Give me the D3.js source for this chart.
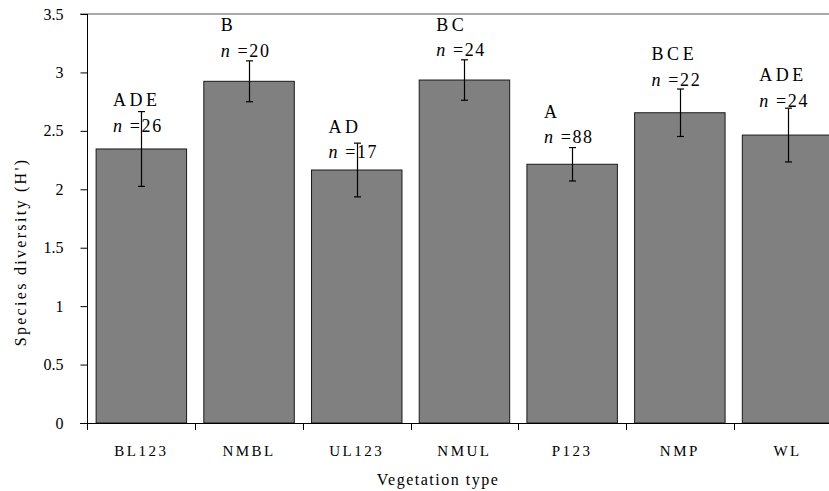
<!DOCTYPE html>
<html>
<head>
<meta charset="utf-8">
<script src="https://cdn.jsdelivr.net/npm/d3@7"></script>
<style>
  body { margin: 0; background: #fff; }
</style>
</head>
<body>
<div id="chart-wrapper"></div>
<script>
// data
const categories = ["BL123", "NMBL", "UL123", "NMUL", "P123", "NMP", "WL"];
const diversity = [2.345, 2.924, 2.165, 2.935, 2.214, 2.655, 2.464];
const errors = [0.32, 0.175, 0.23, 0.173, 0.143, 0.203, 0.23];
const groups = ["ADE", "B", "AD", "BC", "A", "BCE", "ADE"];
const sampleSizes = [26, 20, 17, 24, 88, 22, 24];
// height (in H' units) where the "n =" line of each label sits
const labelAt = [2.493, 3.134, 2.265, 3.140, 2.396, 2.884, 2.707];
const yTicks = [0, 0.5, 1, 1.5, 2, 2.5, 3, 3.5];

const width = 829, height = 491;
const size = { left: 87.5, top: 14, bottom: 423, step: 107.7 };
const serif = "'Liberation Serif', 'Times New Roman', Times, 'DejaVu Serif', serif";

const svg = d3.select("#chart-wrapper")
    .append("svg")
    .attr("width", width)
    .attr("height", height)
    .attr("font-family", serif)
    .style("font-family", serif);

const x = d3.scaleBand()
    .domain(categories)
    .range([size.left, size.left + size.step * categories.length])
    .paddingInner(0.16)
    .paddingOuter(0.08);

const y = d3.scaleLinear()
    .domain([0, 3.5])
    .range([size.bottom, size.top]);

const rows = categories.map((c, i) => ({
    cat: c, value: diversity[i], err: errors[i],
    group: groups[i], n: sampleSizes[i], at: labelAt[i]
}));

// top frame line
svg.append("line")
    .attr("x1", 80).attr("x2", width)
    .attr("y1", y(3.5)).attr("y2", y(3.5))
    .attr("stroke", "#8c8c8c").attr("stroke-width", 1.5);

// bars
svg.append("g")
    .selectAll("rect")
    .data(rows)
    .join("rect")
    .attr("x", d => x(d.cat))
    .attr("y", d => y(d.value))
    .attr("width", x.bandwidth())
    .attr("height", d => y(0) - y(d.value))
    .attr("fill", "#808080")
    .attr("stroke", "#1a1a1a")
    .attr("stroke-width", 1);

// error bars
const err = svg.append("g")
    .selectAll("g")
    .data(rows)
    .join("g")
    .attr("stroke", "#000")
    .attr("stroke-width", 1.2);
const cx = d => Math.round(x(d.cat) + x.bandwidth() / 2) + 0.5;
err.append("line")
    .attr("x1", cx).attr("x2", cx)
    .attr("y1", d => y(d.value + d.err))
    .attr("y2", d => y(d.value - d.err));
err.append("line")
    .attr("x1", d => cx(d) - 3.5).attr("x2", d => cx(d) + 3.5)
    .attr("y1", d => y(d.value + d.err)).attr("y2", d => y(d.value + d.err));
err.append("line")
    .attr("x1", d => cx(d) - 3.5).attr("x2", d => cx(d) + 3.5)
    .attr("y1", d => y(d.value - d.err)).attr("y2", d => y(d.value - d.err));

// y axis
const yAxis = svg.append("g")
    .attr("transform", `translate(${size.left},0)`)
    .call(d3.axisLeft(y).tickValues(yTicks).tickSize(7).tickPadding(17)
        .tickFormat(d => d));
yAxis.attr("font-family", serif).attr("font-size", 16);
yAxis.select(".domain").remove();
yAxis.selectAll(".tick line").attr("stroke", "#000");
yAxis.selectAll(".tick text")
    .attr("fill", "#000")
    .attr("dy", "0.32em");
svg.append("line")
    .attr("x1", size.left).attr("x2", size.left)
    .attr("y1", y(3.5)).attr("y2", y(0) + 7)
    .attr("stroke", "#000");

// x axis: line plus ticks between categories
svg.append("line")
    .attr("x1", 80).attr("x2", width)
    .attr("y1", y(0) + 0.5).attr("y2", y(0) + 0.5)
    .attr("stroke", "#000");
const gap = x.step() * x.paddingInner() / 2;
svg.append("g")
    .selectAll("line")
    .data(categories.slice(1))
    .join("line")
    .attr("x1", d => Math.round(x(d) - gap) + 0.5)
    .attr("x2", d => Math.round(x(d) - gap) + 0.5)
    .attr("y1", y(0)).attr("y2", y(0) + 7)
    .attr("stroke", "#000");

svg.append("g")
    .selectAll("text")
    .data(categories)
    .join("text")
    .attr("x", d => x(d) + x.bandwidth() / 2)
    .attr("y", 456)
    .attr("text-anchor", "middle")
    .attr("font-size", 15)
    .style("letter-spacing", "2.5px")
    .text(d => d);

// axis titles
svg.append("text")
    .attr("x", 438)
    .attr("y", 485)
    .attr("text-anchor", "middle")
    .attr("font-size", 16)
    .style("letter-spacing", "1.5px")
    .text("Vegetation type");

svg.append("text")
    .attr("transform", `translate(26,252) rotate(-90)`)
    .attr("text-anchor", "middle")
    .attr("font-size", 16)
    .style("letter-spacing", "2.3px")
    .text("Species diversity (H')");

// group letters and sample sizes
const labels = svg.append("g")
    .selectAll("g")
    .data(rows)
    .join("g")
    .attr("transform", d => `translate(${x(d.cat) + 17},${y(d.at)})`);
labels.append("text")
    .attr("y", -25.5)
    .attr("font-size", 18)
    .style("letter-spacing", "3.5px")
    .text(d => d.group);
const nText = labels.append("text")
    .attr("font-size", 18)
    .style("letter-spacing", "1.6px");
nText.append("tspan").style("font-style", "italic").text("n");
nText.append("tspan").text(d => " =" + d.n);
</script>
</body>
</html>
